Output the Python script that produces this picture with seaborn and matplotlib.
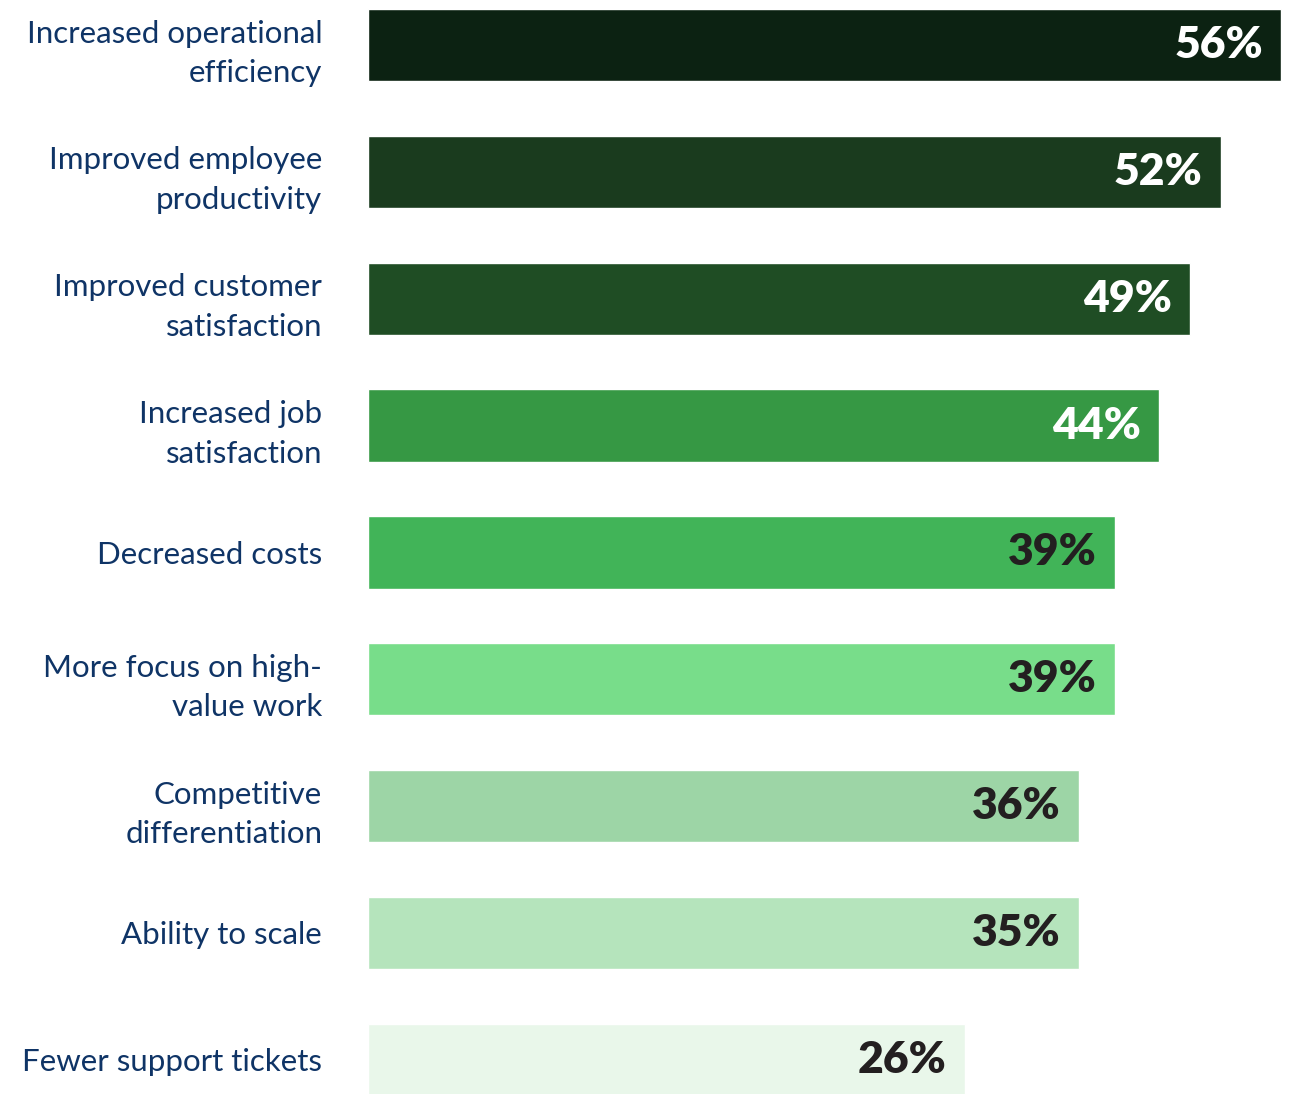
import matplotlib.pyplot as plt
import seaborn as sns
import pandas as pd

# Survey results: benefits of AI
categories = [
    "Increased operational\nefficiency",
    "Improved employee\nproductivity",
    "Improved customer\nsatisfaction",
    "Increased job\nsatisfaction",
    "Decreased costs",
    "More focus on high-\nvalue work",
    "Competitive\ndifferentiation",
    "Ability to scale",
    "Fewer support tickets",
]
pct_values = [56, 52, 49, 44, 39, 39, 36, 35, 26]
# bar lengths as drawn in the original (not strictly proportional to the labels)
bar_lengths = [56, 52.3, 50.4, 48.5, 45.8, 45.8, 43.6, 43.6, 36.6]

bar_colors = ["#0c2212", "#1a3b1e", "#1f4d24", "#369844", "#41b458",
              "#78dd8a", "#9dd5a6", "#b5e4bc", "#e9f7ea"]
text_colors = ["white"] * 4 + ["#231f20"] * 5

df = pd.DataFrame({"benefit": categories, "length": bar_lengths, "pct": pct_values})

sns.set_style("white")
plt.rcParams["font.family"] = ["Lato", "DejaVu Sans"]

fig = plt.figure(figsize=(12.94, 10.94), dpi=100)
ax = fig.add_axes([368 / 1294, 0, 926 / 1294, 1])

sns.barplot(data=df, x="length", y="benefit", hue="benefit", palette=bar_colors,
            legend=False, width=0.57, saturation=1, ax=ax)

for i, row in df.iterrows():
    ax.annotate(f"{row['pct']}%", xy=(row["length"], i), xytext=(-18, 0),
                textcoords="offset pixels", ha="right", va="center",
                fontsize=32, fontweight="heavy", color=text_colors[i])

ax.set_xlim(0, 56 * 926 / 913)
ax.set_ylim(8.27, -0.355)
ax.set_xlabel("")
ax.set_ylabel("")
ax.set_xticks([])
ax.tick_params(axis="y", length=0, pad=33, labelsize=22.5, labelcolor="#0f3466")
for lbl in ax.get_yticklabels():
    lbl.set_linespacing(1.5)
sns.despine(ax=ax, left=True, bottom=True)

fig.savefig("out.png", dpi=100)
